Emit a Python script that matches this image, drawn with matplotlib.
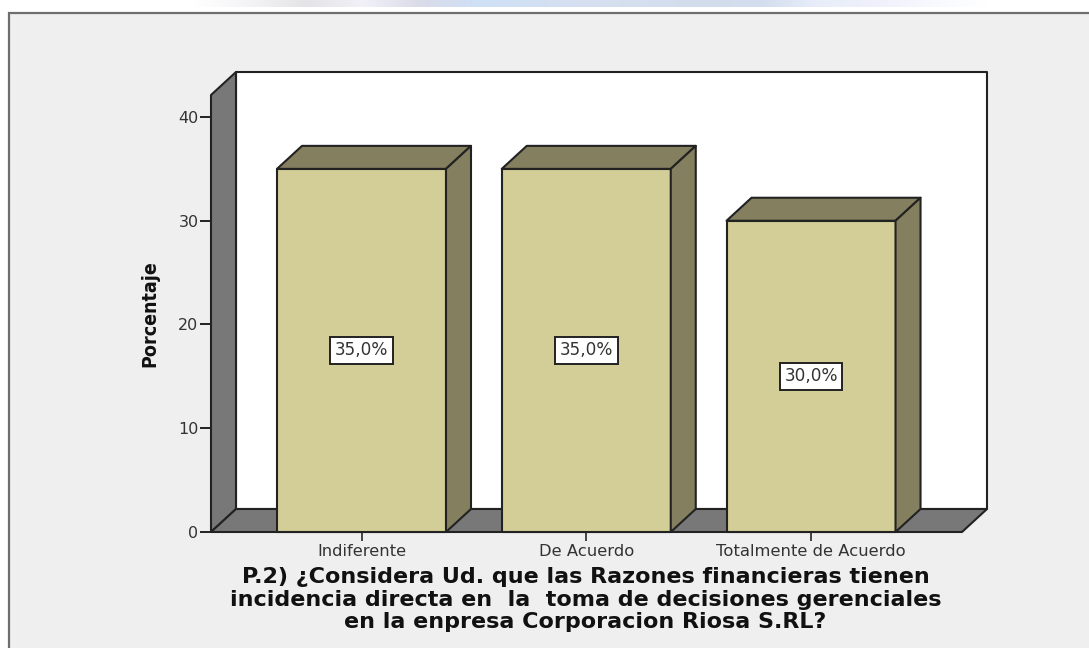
import matplotlib
matplotlib.use("Agg")
import numpy as np
import matplotlib.pyplot as plt
from matplotlib.colors import to_rgb
from matplotlib.patches import Polygon, Rectangle

categories = ["Indiferente", "De Acuerdo", "Totalmente de Acuerdo"]
values = [35.0, 35.0, 30.0]
value_labels = ["35,0%", "35,0%", "30,0%"]
y_ticks = [0, 10, 20, 30, 40]
title_lines = [
    "P.2) ¿Considera Ud. que las Razones financieras tienen",
    "incidencia directa en  la  toma de decisiones gerenciales",
    "en la enpresa Corporacion Riosa S.RL?",
]
title_baselines = [583, 605.5, 628]
strip_colors = ["#ffffff", "#f4f4f6", "#e4e3e6", "#f2f1f8", "#d9dbe8", "#cfe0f5", "#d2dff3",
                "#d6dff0", "#d3dfee", "#d2ddec", "#d2ddee", "#e8edf9", "#eef1fb", "#f6f9fd", "#ffffff"]

W, H = 1089, 648
BG = "#efefef"
LINE = "#222222"
BAR = "#d3ce97"
BAR_DARK = "#847f5e"
WALL = "#787878"
TEXT = "#333333"

fig = plt.figure(figsize=(W / 100, H / 100), dpi=100, facecolor="white")

# outer panel, runs off the right and bottom edge
panel = Rectangle((9 / W, -0.01), 1.01, (H - 13) / H + 0.01, transform=fig.transFigure,
                  facecolor=BG, edgecolor="#6e6e6e", linewidth=1.6, zorder=-1)
fig.add_artist(panel)

# blurred bit of a picture left above the panel
strip = fig.add_axes([165 / W, (H - 7) / H, 850 / W, 7 / H])
strip.imshow(np.array([[to_rgb(c) for c in strip_colors]]), aspect="auto", interpolation="bilinear")
strip.axis("off")

ax = fig.add_axes([211 / W, (H - 532) / H, 751 / W, 437 / H])
ax.patch.set_alpha(0)
ax.set_xlim(-0.6696, 2.6717)
ax.set_ylim(0, 42.12)
for s in ax.spines.values():
    s.set_visible(False)

# depth of the 3D look in data units
px_x = (2.6717 + 0.6696) / 751
px_y = 42.12 / 437
dx = 25 * px_x
dy = 23 * px_y
x0, x1 = ax.get_xlim()
y1 = ax.get_ylim()[1]


def poly(points, color, z):
    ax.add_patch(Polygon(points, closed=True, facecolor=color, edgecolor=LINE, linewidth=1.5,
                         joinstyle="round", clip_on=False, zorder=z))


poly([(x0 + dx, dy), (x1 + dx, dy), (x1 + dx, y1 + dy), (x0 + dx, y1 + dy)], "white", 1)
poly([(x0, 0), (x0 + dx, dy), (x0 + dx, y1 + dy), (x0, y1)], WALL, 2)
poly([(x0, 0), (x1, 0), (x1 + dx, dy), (x0 + dx, dy)], WALL, 2)

bar_w = 169 * px_x
for i, v in enumerate(values):
    left = i - bar_w / 2
    right = i + bar_w / 2
    poly([(left, 0), (right, 0), (right, v), (left, v)], BAR, 3)
    poly([(left, v), (right, v), (right + dx, v + dy), (left + dx, v + dy)], BAR_DARK, 3)
    poly([(right, 0), (right + dx, dy), (right + dx, v + dy), (right, v)], BAR_DARK, 3)
    ax.text(i, v / 2, value_labels[i], ha="center", va="center", fontsize=12.2, color=TEXT, zorder=5,
            bbox=dict(boxstyle="square,pad=0.27", facecolor="white", edgecolor=LINE, linewidth=1.4))

ax.set_xticks(range(len(categories)))
ax.set_xticklabels(categories, fontsize=11.8, color=TEXT)
ax.set_yticks(y_ticks)
ax.set_yticklabels([str(t) for t in y_ticks], fontsize=11.5, color=TEXT)
ax.tick_params(axis="x", length=6.5, width=1.4, color="#444444", pad=2)
ax.tick_params(axis="y", length=8, width=1.4, color=LINE, pad=1)

fig.text(150 / W, 1 - 313.5 / H, "Porcentaje", rotation=90, ha="center", va="center",
         family="DejaVu Sans", stretch="condensed", fontweight="bold", fontsize=14, color="#111111")
for line, base in zip(title_lines, title_baselines):
    fig.text(585.5 / W, 1 - base / H, line, ha="center", va="baseline",
             fontweight="bold", fontsize=16, color="#111111")

fig.savefig("out.png", dpi=100)
